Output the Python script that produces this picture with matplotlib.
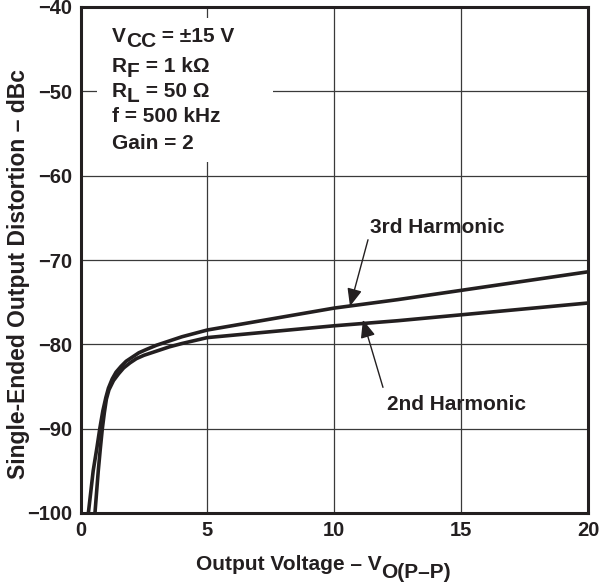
import matplotlib
matplotlib.use("Agg")
import matplotlib.pyplot as plt
from matplotlib.patches import Rectangle

plt.rcParams["font.family"] = ["Liberation Sans", "DejaVu Sans"]
plt.rcParams["font.weight"] = "bold"

# Distortion vs output voltage
v_3rd = [0.31, 0.5, 0.65, 0.76, 0.88, 1.0, 1.1, 1.25, 1.4, 1.6, 1.8, 2.0, 2.3, 2.6, 3.0,
         3.5, 4.0, 5.0, 7.5, 10.0, 12.5, 15.0, 17.5, 20.0]
d_3rd = [-100, -95, -92.2, -90, -87.9, -86.3, -85.2, -84.1, -83.3, -82.6, -82.0, -81.6,
         -81.0, -80.6, -80.1, -79.6, -79.1, -78.3, -77.0, -75.7, -74.7, -73.6, -72.5, -71.4]

v_2nd = [0.57, 0.7, 0.78, 0.86, 0.94, 1.02, 1.12, 1.3, 1.5, 1.7, 1.95, 2.2, 2.5, 2.8, 3.2,
         3.5, 4.0, 5.0, 7.5, 10.0, 12.5, 15.0, 17.5, 20.0]
d_2nd = [-100, -95, -92.4, -90, -88.1, -86.5, -85.4, -84.3, -83.5, -82.8, -82.2, -81.7,
         -81.3, -81.0, -80.6, -80.3, -79.9, -79.2, -78.5, -77.8, -77.2, -76.5, -75.8, -75.1]

x_ticks = [0, 5, 10, 15, 20]
y_ticks = [-100, -90, -80, -70, -60, -50, -40]

INK = "#231f20"
FS = 15


def chained_text(ax, x, y, parts, fs=FS, coords=None):
    """Draw text with full-size lowered subscripts: parts = [(text, drop_pts), ...]."""
    coords = coords if coords is not None else ax.transAxes
    first = ax.text(x, y, parts[0][0], transform=coords, fontsize=fs,
                    fontweight="bold", color=INK, va="baseline", ha="left")
    prev = first
    for s, drop in parts[1:]:
        prev = ax.annotate(s, xy=(1, 0), xycoords=(prev, first),
                           xytext=(0, -drop), textcoords="offset points",
                           fontsize=fs, fontweight="bold", color=INK,
                           va="bottom", ha="left", annotation_clip=False)
    return first


fig = plt.figure(figsize=(6.07, 5.84), dpi=100)
ax = fig.add_axes([80.5 / 607, (584 - 513) / 584, 507.5 / 607, 506 / 584])

ax.plot(v_3rd, d_3rd, color=INK, lw=2.6, zorder=3, solid_capstyle="butt")
ax.plot(v_2nd, d_2nd, color=INK, lw=2.6, zorder=3, solid_capstyle="butt")

ax.set_xlim(0, 20)
ax.set_ylim(-100, -40)
ax.set_xticks(x_ticks)
ax.set_yticks(y_ticks)
ax.set_xticklabels([str(t) for t in x_ticks])
ax.set_yticklabels([str(t).replace("-", "\u2212") for t in y_ticks])
ax.tick_params(length=0, labelsize=14.5, colors=INK, pad=6)
for lbl in ax.get_xticklabels() + ax.get_yticklabels():
    lbl.set_fontweight("bold")
ax.grid(True, color="#3a3a3a", lw=0.9)
ax.set_axisbelow(True)
for sp in ax.spines.values():
    sp.set_linewidth(2.2)
    sp.set_color(INK)

# Conditions box (white, hides the grid behind it)
ax.add_patch(Rectangle((0.0325, 0.694), 0.3465, 0.284, transform=ax.transAxes,
                       facecolor="white", edgecolor="none", zorder=2))
tx = 0.062
chained_text(ax, tx, 0.931, [("V", 0), ("CC", 3.5), (" = \u00b115 V", 0)])
chained_text(ax, tx, 0.872, [("R", 0), ("F", 3.5), (" = 1 k\u03a9", 0)])
chained_text(ax, tx, 0.822, [("R", 0), ("L", 3.5), (" = 50 \u03a9", 0)])
chained_text(ax, tx, 0.773, [("f = 500 kHz", 0)])
chained_text(ax, tx, 0.719, [("Gain = 2", 0)])

arrow = dict(arrowstyle="-|>,head_length=0.6,head_width=0.25", color=INK,
             lw=1.0, shrinkA=0, shrinkB=0, mutation_scale=18)
ax.text(14.07, -66.2, "3rd Harmonic", fontsize=FS, fontweight="bold",
        color=INK, ha="center", va="center")
ax.annotate("", xy=(10.62, -75.5), xytext=(11.33, -67.6), arrowprops=arrow, zorder=4)
ax.text(14.82, -87.1, "2nd Harmonic", fontsize=FS, fontweight="bold",
        color=INK, ha="center", va="center")
ax.annotate("", xy=(11.13, -77.1), xytext=(11.92, -85.1), arrowprops=arrow, zorder=4)

# Axis titles
fig.text(18.5 / 607, 1 - 274 / 584, "Single-Ended Output Distortion \u2013 dBc",
         rotation=90, fontsize=16.5, fontweight="bold", color=INK,
         ha="center", va="center")
chained_text(ax, 196 / 607, 1 - 570 / 584,
             [("Output Voltage \u2013 V", 0), ("O(P\u2013P)", 6)],
             coords=fig.transFigure)

fig.savefig("out.png", dpi=100)
